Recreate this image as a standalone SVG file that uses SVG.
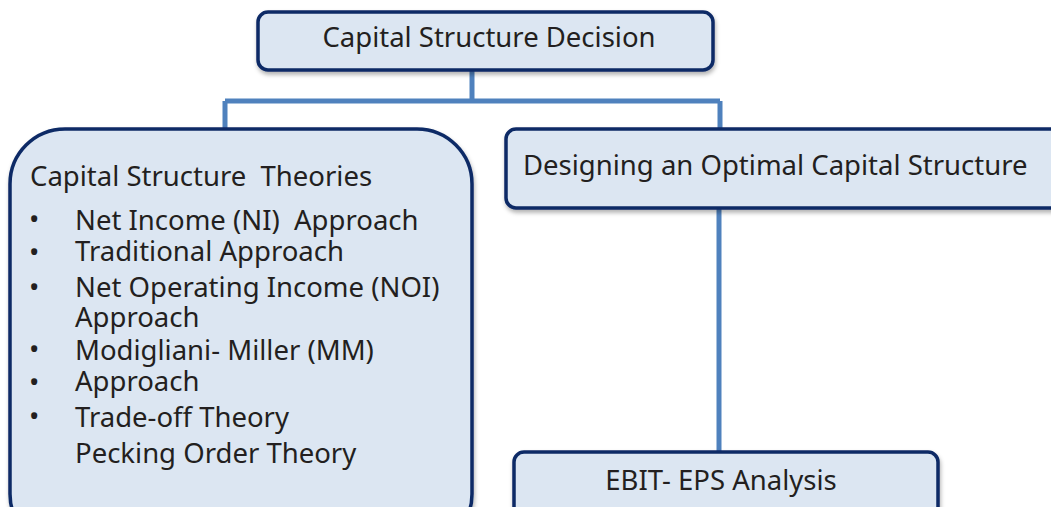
<svg xmlns="http://www.w3.org/2000/svg" width="1051" height="507" viewBox="0 0 1051 507">
<style>
.box{fill:#dce6f2;stroke:#0c2a66;stroke-width:3.5}
.t{font-family:"Noto Sans","Open Sans",sans-serif;font-size:27.5px;fill:#231f20;white-space:pre}
.conn{fill:none;stroke:#4f81bd;stroke-width:5}
</style>
<defs>
<filter id="sh" x="-10%" y="-10%" width="120%" height="130%">
<feDropShadow dx="1" dy="3" stdDeviation="2" flood-color="#000" flood-opacity="0.3"/>
</filter>
</defs>
<rect width="1051" height="507" fill="#fff"/>
<g id="connectors">
<path class="conn" d="M472 71 V101 M225 101 H720 M225 101 V130 M720 101 V130"/>
<path class="conn" d="M719 207 V454"/>
</g>
<g id="n-decision">
<rect class="box" x="258" y="12" width="455" height="58" rx="10" filter="url(#sh)"/>
<text class="t" x="489" y="47" text-anchor="middle">Capital Structure Decision</text>
</g>
<g id="n-theories">
<rect class="box" x="10" y="129" width="462" height="420" rx="55" filter="url(#sh)"/>
<text class="t" x="30" y="186" xml:space="preserve">Capital Structure  Theories</text>
<g class="t">
<text x="29" y="229">•</text>
<text x="29" y="262">•</text>
<text x="29" y="297">•</text>
<text x="29" y="359">•</text>
<text x="29" y="392">•</text>
<text x="29" y="426">•</text>
</g>
<text class="t" x="75" y="230" xml:space="preserve">Net Income (NI)  Approach</text>
<text class="t" x="75" y="261">Traditional Approach</text>
<text class="t" x="75" y="297">Net Operating Income (NOI)</text>
<text class="t" x="75" y="327">Approach</text>
<text class="t" x="75" y="360">Modigliani- Miller (MM)</text>
<text class="t" x="75" y="391">Approach</text>
<text class="t" x="75" y="427">Trade-off Theory</text>
<text class="t" x="75" y="463">Pecking Order Theory</text>
</g>
<g id="n-designing">
<rect class="box" x="506" y="129" width="560" height="79" rx="10" filter="url(#sh)"/>
<text class="t" x="523" y="175">Designing an Optimal Capital Structure</text>
</g>
<g id="n-ebit">
<rect class="box" x="514" y="452" width="424" height="80" rx="10" filter="url(#sh)"/>
<text class="t" x="721" y="490" text-anchor="middle">EBIT- EPS Analysis</text>
</g>
</svg>
